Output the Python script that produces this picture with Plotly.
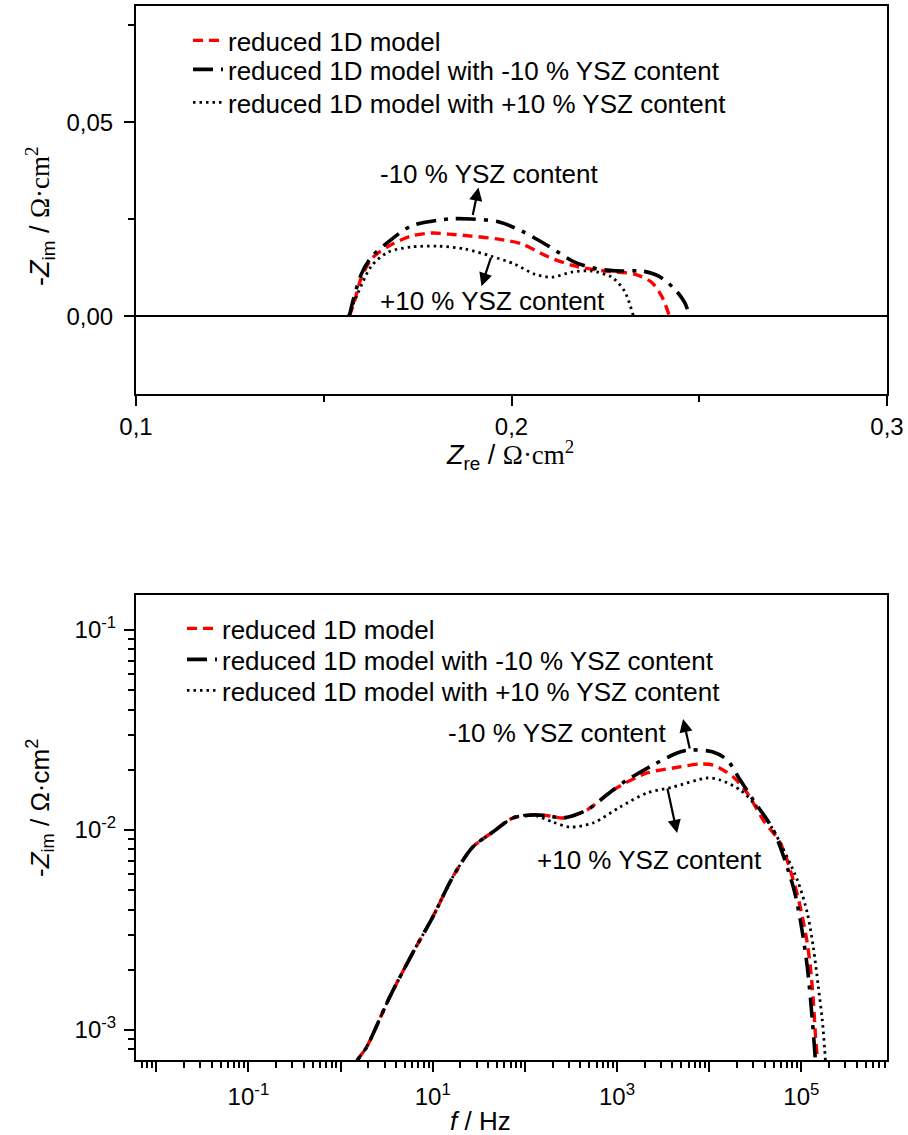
import plotly.graph_objects as go

# ---------------- Nyquist data (top panel) ----------------
nyq_ref_zre = [0.1568, 0.1581, 0.1600, 0.1627, 0.1672, 0.1733, 0.1787, 0.1832, 0.1893, 0.1965,
               0.2027, 0.2099, 0.2168, 0.2248, 0.2328, 0.2373, 0.2400, 0.2421]
nyq_ref_zim = [0.0, 0.0036, 0.0100, 0.0148, 0.0181, 0.0207, 0.0215, 0.0212, 0.0207, 0.0199,
               0.0187, 0.0153, 0.0130, 0.0117, 0.0109, 0.0088, 0.0052, 0.0]

nyq_minus_zre = [0.1568, 0.1579, 0.1600, 0.1627, 0.1672, 0.1733, 0.1832, 0.1893, 0.1965, 0.2027,
                 0.2099, 0.2168, 0.2232, 0.2293, 0.2347, 0.2392, 0.2435, 0.2461, 0.2475]
nyq_minus_zim = [0.0, 0.0044, 0.0109, 0.0153, 0.0192, 0.0233, 0.0251, 0.0251, 0.0244, 0.0220,
                 0.0181, 0.0140, 0.0122, 0.0117, 0.0117, 0.0104, 0.0070, 0.0036, 0.0]

nyq_plus_zre = [0.1565, 0.1592, 0.1627, 0.1672, 0.1733, 0.1805, 0.1875, 0.1947, 0.2008, 0.2061,
                0.2107, 0.2160, 0.2213, 0.2267, 0.2301, 0.2325]
nyq_plus_zim = [0.0, 0.0062, 0.0130, 0.0166, 0.0179, 0.0181, 0.0174, 0.0155, 0.0135, 0.0109,
                0.0101, 0.0114, 0.0117, 0.0101, 0.0065, 0.0]

# ---------------- Bode data (bottom panel) ----------------
bode_ref_f = [1.3, 1.53, 1.92, 3.41, 6.07, 10, 16.5, 27.2, 44.9, 74.1, 122, 187, 259, 472, 906,
              2118, 4064, 7980, 11040, 18240, 25880, 38640, 59160, 81850, 97500, 116100,
              125300, 134900, 141900, 149300, 152000]
bode_ref_z = [6.0e-4, 7.08e-4, 8.22e-4, 1.46e-3, 2.43e-3, 3.67e-3, 5.82e-3, 8.22e-3, 9.77e-3,
              0.01148, 0.01189, 0.01175, 0.01148, 0.01259, 0.01585, 0.01928, 0.02042, 0.02138,
              0.02113, 0.01841, 0.01531, 0.01122, 8.61e-3, 5.62e-3, 4.12e-3, 2.72e-3, 2.07e-3,
              1.41e-3, 9.66e-4, 7.08e-4, 5.5e-4]

bode_minus_f = [1.3, 1.53, 1.92, 3.41, 6.07, 10, 16.5, 27.2, 44.9, 74.1, 122, 187, 259, 472, 906,
                1285, 2460, 4487, 6209, 11040, 15700, 21730, 30060, 49660, 81850, 97500, 116100,
                131800, 141900, 144000]
bode_minus_z = [6.0e-4, 7.08e-4, 8.22e-4, 1.46e-3, 2.43e-3, 3.67e-3, 5.82e-3, 8.22e-3, 9.77e-3,
                0.01148, 0.01189, 0.01175, 0.01148, 0.01259, 0.01585, 0.01778, 0.02113, 0.02427,
                0.02512, 0.02455, 0.02239, 0.01778, 0.01413, 0.0100, 5.19e-3, 3.55e-3, 2.07e-3,
                1.12e-3, 7.08e-4, 5.5e-4]

bode_plus_f = [1.3, 1.53, 1.92, 3.41, 6.07, 10, 16.5, 27.2, 44.9, 74.1, 122, 201, 308, 548, 1079,
               2118, 4064, 9506, 13180, 21730, 33270, 49660, 90570, 116100, 134900, 153100,
               169000, 182400, 186000]
bode_plus_z = [6.0e-4, 7.08e-4, 8.22e-4, 1.46e-3, 2.43e-3, 3.67e-3, 5.82e-3, 8.22e-3, 9.77e-3,
               0.01148, 0.01189, 0.01096, 0.01035, 0.01084, 0.01303, 0.01531, 0.01641, 0.01820,
               0.01778, 0.01585, 0.01303, 0.0100, 5.62e-3, 3.85e-3, 2.60e-3, 1.64e-3, 1.12e-3,
               7.08e-4, 5.5e-4]

series_names = ["reduced 1D model",
                "reduced 1D model with -10 % YSZ content",
                "reduced 1D model with +10 % YSZ content"]

top_xticks = [0.1, 0.2, 0.3]
top_xticktext = ["0,1", "0,2", "0,3"]
top_yticks = [0.0, 0.05]
top_yticktext = ["0,00", "0,05"]

SANS = "Liberation Sans, Arial, sans-serif"

styles = [
    dict(color="#ff0000", width=3.4, dash="10px,6px"),
    dict(color="black", width=3.6, dash="20px,8px,4px,8px"),
    dict(color="black", width=2.8, dash="2.5px,4px"),
]

W, H = 908, 1135
fig = go.Figure()

top_legends = ["legend", "legend2", "legend3"]
bot_legends = ["legend4", "legend5", "legend6"]

nyq = [(nyq_ref_zre, nyq_ref_zim), (nyq_minus_zre, nyq_minus_zim), (nyq_plus_zre, nyq_plus_zim)]
for (xs, ys), name, st, lg in zip(nyq, series_names, styles, top_legends):
    fig.add_trace(go.Scatter(x=xs, y=ys, mode="lines", name=name,
                             line=dict(shape="spline", smoothing=0.8, **st),
                             xaxis="x", yaxis="y", legend=lg))

bode = [(bode_ref_f, bode_ref_z), (bode_minus_f, bode_minus_z), (bode_plus_f, bode_plus_z)]
for (xs, ys), name, st, lg in zip(bode, series_names, styles, bot_legends):
    fig.add_trace(go.Scatter(x=xs, y=ys, mode="lines", name=name,
                             line=dict(shape="spline", smoothing=0.8, **st),
                             xaxis="x2", yaxis="y2", legend=lg))

xdom = [136 / W, 887 / W]
top_ydom = [1 - 394 / H, 1 - 6 / H]
bot_ydom = [1 - 1060 / H, 1 - 595 / H]

axis_common = dict(showline=True, linecolor="black", linewidth=2, mirror=True, showgrid=False,
                   ticks="outside", ticklen=10, tickwidth=2, tickcolor="black", automargin=False)

dec_x = list(range(-2, 6))
bot_xtickvals = [10.0 ** k for k in dec_x]
bot_xticktext = [("10<sup>%d</sup>" % k) if k % 2 != 0 else "" for k in dec_x]
bot_xminor = [m * 10.0 ** k for k in range(-3, 6) for m in range(2, 10)]
dec_y = [-3, -2, -1]
bot_ytickvals = [10.0 ** k for k in dec_y]
bot_yticktext = ["10<sup>%d</sup>" % k for k in dec_y]
bot_yminor = [m * 10.0 ** k for k in range(-4, 0) for m in range(2, 10)]

minor_style = dict(ticklen=6, tickwidth=2, ticks="outside", tickcolor="black")

fig.update_layout(
    width=W, height=H,
    margin=dict(l=0, r=0, t=0, b=0, autoexpand=False),
    paper_bgcolor="white", plot_bgcolor="white",
    font=dict(family=SANS, color="black"),
    xaxis=dict(domain=xdom, anchor="y", range=[0.1, 0.3], tickvals=top_xticks, ticktext=top_xticktext,
               tickfont=dict(size=24, family=SANS), zeroline=False,
               minor=dict(tickvals=[0.15, 0.25], **minor_style), **axis_common),
    yaxis=dict(domain=top_ydom, anchor="x", range=[-0.02, 0.08], tickvals=top_yticks, ticktext=top_yticktext,
               tickfont=dict(size=24, family=SANS), zeroline=True, zerolinecolor="black", zerolinewidth=2,
               ticklabelstandoff=6,
               minor=dict(tickvals=[0.025, 0.075], **minor_style), **axis_common),
    xaxis2=dict(domain=xdom, anchor="y2", type="log", range=[-2.22, 5.93], tickvals=bot_xtickvals,
                ticktext=bot_xticktext, tickfont=dict(size=24, family=SANS), ticklabelstandoff=4,
                minor=dict(tickvals=bot_xminor, **minor_style), **axis_common),
    yaxis2=dict(domain=bot_ydom, anchor="x2", type="log", range=[-3.15, -0.825], tickvals=bot_ytickvals,
                ticktext=bot_yticktext, tickfont=dict(size=24, family=SANS), ticklabelstandoff=3,
                minor=dict(tickvals=bot_yminor, **minor_style), **axis_common),
    showlegend=True,
)

legend_style = dict(xanchor="left", yanchor="top", bgcolor="rgba(0,0,0,0)",
                    font=dict(size=26, family=SANS), itemwidth=30)
top_row_tops = [17, 46, 79]
bot_row_tops = [605, 636, 667]
for lg, top in zip(top_legends, top_row_tops):
    fig.update_layout({lg: dict(x=188 / W, y=1 - top / H, **legend_style)})
for lg, top in zip(bot_legends, bot_row_tops):
    fig.update_layout({lg: dict(x=182 / W, y=1 - top / H, **legend_style)})

ann_font = dict(size=26, family=SANS, color="black")
arrow_style = dict(showarrow=True, arrowhead=2, arrowsize=1.2, arrowwidth=2.2, arrowcolor="black", text="")
ctr = dict(xanchor="center", yanchor="middle")
annotations = [
    dict(x=0.1941, y=0.0368, xref="x", yref="y", text="-10 % YSZ content", showarrow=False, font=ann_font, **ctr),
    dict(x=0.1949, y=0.0039, xref="x", yref="y", text="+10 % YSZ content", showarrow=False, font=ann_font, **ctr),
    dict(x=0.1912, y=0.0332, xref="x", yref="y", ax=-6, ay=29, **arrow_style),
    dict(x=0.1920, y=0.0078, xref="x", yref="y", ax=10, ay=-30, **arrow_style),
    dict(x=2.359, y=-1.515, xref="x2", yref="y2", text="-10 % YSZ content", showarrow=False, font=ann_font, **ctr),
    dict(x=3.348, y=-2.15, xref="x2", yref="y2", text="+10 % YSZ content", showarrow=False, font=ann_font, **ctr),
    dict(x=3.717, y=-1.445, xref="x2", yref="y2", ax=7, ay=31, **arrow_style),
    dict(x=3.652, y=-2.015, xref="x2", yref="y2", ax=-10, ay=-46, **arrow_style),
    dict(x=40 / W, y=1 - 217 / H, xref="paper", yref="paper", textangle=-90, showarrow=False,
         text="-<i>Z</i><sub>im</sub> / <span style='font-family:Liberation Serif'>&#937;&#183;cm<sup>2</sup></span>",
         font=dict(size=27, family=SANS), **ctr),
    dict(x=510 / W, y=1 - 455 / H, xref="paper", yref="paper", showarrow=False,
         text="<i>Z</i><sub>re</sub> / <span style='font-family:Liberation Serif'>&#937;&#183;cm<sup>2</sup></span>",
         font=dict(size=27, family=SANS), **ctr),
    dict(x=40 / W, y=1 - 808 / H, xref="paper", yref="paper", textangle=-90, showarrow=False,
         text="-<i>Z</i><sub>im</sub> / &#937;&#183;cm<sup>2</sup>", font=dict(size=26, family=SANS), **ctr),
    dict(x=480 / W, y=1 - 1121 / H, xref="paper", yref="paper", showarrow=False,
         text="<i>f</i> / Hz", font=dict(size=26, family=SANS), **ctr),
]
fig.update_layout(annotations=annotations)

fig.write_html("out.html")
